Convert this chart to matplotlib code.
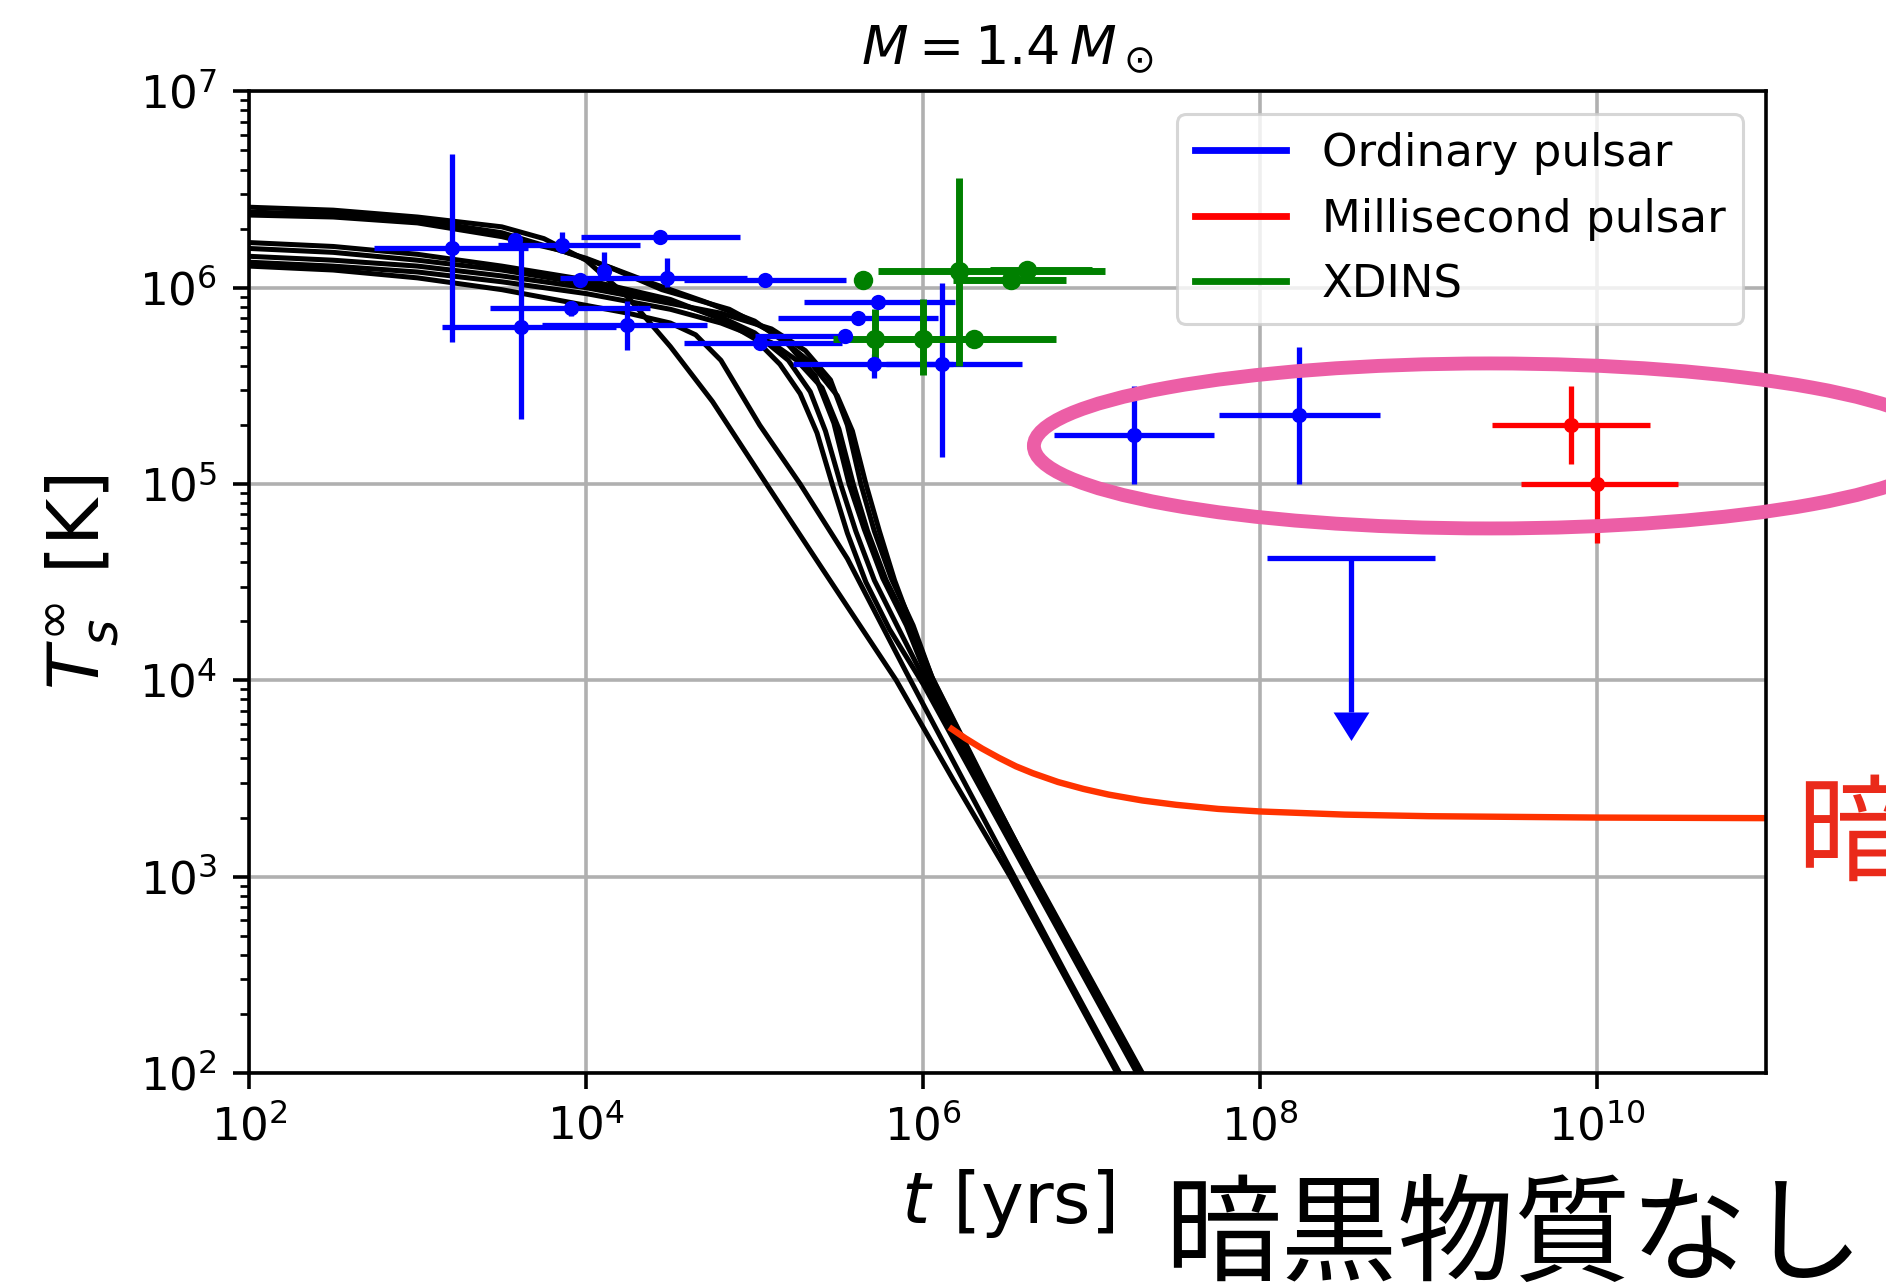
import numpy as np
import matplotlib
matplotlib.use("Agg")
import matplotlib.pyplot as plt
from matplotlib.lines import Line2D
from matplotlib.patches import Ellipse
from matplotlib.ticker import LogLocator, NullLocator

plt.rcParams['font.family'] = ['DejaVu Sans']
plt.rcParams['mathtext.fontset'] = 'dejavusans'

# ---------------------------------------------------------------------------
# Minimal-cooling curves: log10(t / yr) and log10(T_s^inf / K)
# ---------------------------------------------------------------------------
c1_logt = [2.0, 2.5, 3.0, 3.5, 3.75, 4.0, 4.25, 4.5, 4.75, 5.07, 5.4, 5.84, 6.18, 6.516, 6.84, 7.149, 7.25]
c1_logT = [6.41, 6.395, 6.36, 6.31, 6.25, 6.14, 5.95, 5.70, 5.42, 5.00, 4.57, 4.00, 3.49, 3.00, 2.49, 2.00, 1.84]

c2_logt = [2.0, 2.5, 3.0, 3.5, 4.0, 4.25, 4.5, 4.65, 4.8, 5.03, 5.27, 5.55, 5.9, 6.22, 6.535, 6.85, 7.165, 7.26]
c2_logT = [6.11, 6.09, 6.05, 5.99, 5.91, 5.87, 5.82, 5.76, 5.63, 5.30, 5.00, 4.62, 4.04, 3.52, 3.01, 2.50, 2.00, 1.85]

c3_logt = [2.0, 2.5, 3.0, 3.5, 4.0, 4.5, 4.8, 5.0, 5.15, 5.27, 5.37, 5.46, 5.55, 5.66, 5.80, 6.0, 6.32, 6.64, 6.96, 7.28, 7.36]
c3_logT = [6.23, 6.21, 6.17, 6.11, 6.04, 5.94, 5.84, 5.74, 5.61, 5.46, 5.26, 5.00, 4.75, 4.50, 4.26, 3.98, 3.48, 2.98, 2.48, 1.98, 1.86]

c4_logt = [2.0, 2.5, 3.0, 3.5, 4.0, 4.5, 4.8, 5.0, 5.2, 5.33, 5.42, 5.51, 5.60, 5.71, 5.85, 6.01, 6.33, 6.645, 6.965, 7.285, 7.36]
c4_logT = [6.20, 6.18, 6.14, 6.09, 6.02, 5.93, 5.85, 5.77, 5.63, 5.47, 5.27, 5.00, 4.76, 4.51, 4.27, 4.00, 3.50, 3.00, 2.50, 2.00, 1.88]

c5_logt = [2.0, 2.5, 3.0, 3.5, 4.0, 4.4, 4.7, 5.0, 5.2, 5.36, 5.47, 5.56, 5.65, 5.76, 5.90, 6.03, 6.34, 6.65, 6.97, 7.29, 7.37]
c5_logT = [6.385, 6.375, 6.345, 6.28, 6.15, 6.02, 5.93, 5.83, 5.71, 5.55, 5.31, 5.00, 4.77, 4.52, 4.28, 4.00, 3.50, 3.00, 2.50, 2.00, 1.88]

c6_logt = [2.0, 2.5, 3.0, 3.5, 4.0, 4.5, 4.8, 5.1, 5.3, 5.45, 5.55, 5.63, 5.71, 5.81, 5.94, 6.05, 6.35, 6.655, 6.975, 7.295, 7.37]
c6_logT = [6.16, 6.14, 6.11, 6.06, 6.00, 5.92, 5.87, 5.79, 5.68, 5.53, 5.30, 5.00, 4.76, 4.52, 4.28, 4.02, 3.51, 3.00, 2.50, 2.00, 1.88]

c7_logt = [2.0, 2.5, 3.0, 3.5, 4.0, 4.5, 4.8, 5.1, 5.25, 5.40, 5.50, 5.585, 5.67, 5.78, 5.92, 6.03, 6.34, 6.65, 6.97, 7.29, 7.37]
c7_logT = [6.13, 6.11, 6.08, 6.03, 5.97, 5.89, 5.82, 5.72, 5.63, 5.49, 5.28, 5.00, 4.76, 4.51, 4.27, 4.01, 3.50, 3.00, 2.50, 2.00, 1.88]

c8_logt = [2.0, 2.5, 3.0, 3.5, 3.85, 4.15, 4.45, 4.85, 5.13, 5.33, 5.49, 5.58, 5.66, 5.74, 5.83, 5.93, 6.06, 6.35, 6.66, 6.98, 7.30, 7.38]
c8_logT = [6.37, 6.36, 6.33, 6.26, 6.19, 6.10, 5.99, 5.89, 5.76, 5.62, 5.45, 5.27, 5.00, 4.76, 4.51, 4.28, 4.00, 3.50, 3.00, 2.50, 2.00, 1.87]

cooling_curves = [(c1_logt, c1_logT), (c2_logt, c2_logT), (c3_logt, c3_logT),
                  (c4_logt, c4_logT), (c5_logt, c5_logT), (c6_logt, c6_logT),
                  (c7_logt, c7_logT), (c8_logt, c8_logT)]

# Dark-matter heating branch
dm_logt = [6.17, 6.25, 6.35, 6.45, 6.55, 6.65, 6.80, 6.95, 7.10, 7.30, 7.50, 7.75, 8.0, 8.5, 9.0, 10.0, 11.0]
dm_logT = [3.752, 3.705, 3.652, 3.605, 3.562, 3.527, 3.482, 3.447, 3.418, 3.388, 3.366, 3.345, 3.332, 3.316, 3.308, 3.301, 3.298]

# ---------------------------------------------------------------------------
# Observations: age t [yr] with range, surface temperature T [K] with range
# ---------------------------------------------------------------------------
ord_t    = [1.6e3, 3.8e3, 4.1e3, 7.2e3, 8.1e3, 9.2e3, 1.27e4, 1.76e4, 2.75e4, 3.0e4,
            1.15e5, 1.08e5, 3.44e5, 4.13e5, 5.4e5, 5.1e5, 1.29e6, 1.79e7, 1.69e8]
ord_t_lo = [5.5e2, 3.8e3, 1.4e3, 3.0e3, 2.7e3, 9.2e3, 1.27e4, 5.5e3, 9.3e3, 7.0e3,
            3.8e4, 3.8e4, 1.0e5, 1.38e5, 1.95e5, 1.7e5, 6.0e5, 5.97e6, 5.7e7]
ord_t_hi = [4.5e3, 3.8e3, 1.5e4, 2.1e4, 2.4e4, 9.2e3, 1.27e4, 5.2e4, 8.2e4, 9.0e4,
            3.5e5, 3.3e5, 3.6e5, 1.23e6, 1.55e6, 1.5e6, 3.85e6, 5.3e7, 5.1e8]
ord_T    = [1.59e6, 1.75e6, 6.3e5, 1.65e6, 7.85e5, 1.09e6, 1.21e6, 6.45e5, 1.82e6, 1.12e6,
            1.1e6, 5.2e5, 5.67e5, 7.0e5, 8.5e5, 4.1e5, 4.1e5, 1.78e5, 2.25e5]
ord_T_lo = [5.3e5, 1.75e6, 2.15e5, 1.5e6, 7.2e5, 1.09e6, 1.12e6, 4.8e5, 1.82e6, 1.01e6,
            1.1e6, 5.2e5, 5.67e5, 7.0e5, 8.5e5, 3.45e5, 1.37e5, 1.0e5, 1.0e5]
ord_T_hi = [4.8e6, 1.75e6, 1.6e6, 1.93e6, 8.6e5, 1.09e6, 1.52e6, 8.6e5, 1.82e6, 1.42e6,
            1.1e6, 5.2e5, 5.67e5, 7.0e5, 8.5e5, 4.6e5, 1.06e6, 3.17e5, 5.0e5]

# Upper limit on an old ordinary pulsar
ul_t, ul_t_lo, ul_t_hi = 3.44e8, 1.1e8, 1.08e9
ul_T, ul_T_arrow = 4.2e4, 6.9e3

ms_t    = [6.97e9, 1.0e10]
ms_t_lo = [2.37e9, 3.5e9]
ms_t_hi = [2.06e10, 3.0e10]
ms_T    = [2.0e5, 1.0e5]
ms_T_lo = [1.26e5, 5.0e4]
ms_T_hi = [3.17e5, 2.0e5]

xd_t    = [4.4e5, 1.62e6, 4.1e6, 3.3e6, 5.2e5, 1.0e6, 2.0e6]
xd_t_lo = [4.4e5, 5.4e5, 2.5e6, 1.5e6, 2.9e5, 4.5e5, 8.0e5]
xd_t_hi = [4.4e5, 1.2e7, 1.0e7, 7.0e6, 9.5e5, 2.5e6, 6.1e6]
xd_T    = [1.1e6, 1.21e6, 1.23e6, 1.1e6, 5.5e5, 5.5e5, 5.5e5]
xd_T_lo = [1.1e6, 4.0e5, 1.23e6, 1.1e6, 4.0e5, 3.6e5, 5.5e5]
xd_T_hi = [1.1e6, 3.6e6, 1.23e6, 1.1e6, 7.8e5, 8.8e5, 5.5e5]

legend_labels = ['Ordinary pulsar', 'Millisecond pulsar', 'XDINS']
legend_colors = ['b', 'r', 'g']


def asym(v, lo, hi):
    v, lo, hi = map(np.asarray, (v, lo, hi))
    return np.vstack([v - lo, hi - v])


fig = plt.figure(figsize=(18.86, 12.87), dpi=100)
ax = fig.add_axes([0.1320, 0.1663, 0.8044, 0.7627])
ax.set_xscale('log')
ax.set_yscale('log')

for lt, lT in cooling_curves:
    ax.plot(10 ** np.asarray(lt), 10 ** np.asarray(lT), color='k', lw=3.6, zorder=2)

ax.plot(10 ** np.asarray(dm_logt), 10 ** np.asarray(dm_logT), color='#ff3300', lw=4.6, zorder=2)

ax.errorbar(ord_t, ord_T, xerr=asym(ord_t, ord_t_lo, ord_t_hi),
            yerr=asym(ord_T, ord_T_lo, ord_T_hi), fmt='o', color='b',
            ms=11, mew=0, elinewidth=3.8, capsize=0, zorder=3)
ax.errorbar(ms_t, ms_T, xerr=asym(ms_t, ms_t_lo, ms_t_hi),
            yerr=asym(ms_T, ms_T_lo, ms_T_hi), fmt='o', color='r',
            ms=11, mew=0, elinewidth=3.8, capsize=0, zorder=3)
ax.errorbar(xd_t, xd_T, xerr=asym(xd_t, xd_t_lo, xd_t_hi),
            yerr=asym(xd_T, xd_T_lo, xd_T_hi), fmt='o', color='g',
            ms=14, mew=0, elinewidth=5.0, capsize=0, zorder=3)

# upper limit: horizontal age range, downward arrow
ax.errorbar([ul_t], [ul_T], xerr=[[ul_t - ul_t_lo], [ul_t_hi - ul_t]],
            yerr=[[ul_T - ul_T_arrow], [0]], fmt='none', ecolor='b',
            elinewidth=3.8, capsize=0, zorder=3)
arrow_head = [(-1.0, 0.0), (1.0, 0.0), (0.0, -1.59), (-1.0, 0.0)]
ax.plot([ul_t], [ul_T_arrow], linestyle='none', marker=arrow_head, ms=41,
        color='b', mew=0, zorder=3)

ax.set_xlim(1e2, 1e11)
ax.set_ylim(1e2, 1e7)
ax.set_xticks([1e2, 1e4, 1e6, 1e8, 1e10])
ax.xaxis.set_minor_locator(NullLocator())
ax.yaxis.set_major_locator(LogLocator(base=10, numticks=20))
ax.yaxis.set_minor_locator(LogLocator(base=10, subs=np.arange(2, 10), numticks=20))

ax.tick_params(which='major', length=11.4, width=2.6, pad=11.4, labelsize=32.5)
ax.tick_params(which='minor', length=6.5, width=1.95)
for sp in ax.spines.values():
    sp.set_linewidth(2.6)
ax.grid(True, which='major', color='#b0b0b0', lw=2.6)
ax.set_axisbelow(True)

ax.set_title(r'$M = 1.4\,M_\odot$', fontsize=39, pad=19.5)
ax.set_xlabel(r'$t$ [yrs]', fontsize=52, labelpad=13)
ax.set_ylabel(r'$T_s^\infty$ [K]', fontsize=52, labelpad=13)

handles = [Line2D([], [], color=c, lw=4.9) for c in legend_colors]
leg = ax.legend(handles, legend_labels, loc='upper right', fontsize=32.5,
                framealpha=0.8, edgecolor='0.8')
leg.get_frame().set_linewidth(2.2)

fig.add_artist(Ellipse((0.790, 0.6535), 0.4836, 0.1282, transform=fig.transFigure,
                       fill=False, edgecolor='#ec5ea6', lw=10, zorder=10))

fig.text(1164 / 1886, 1 - 1239 / 1287, '暗黒物質なし', fontsize=84,
         family=['Noto Sans CJK JP', 'DejaVu Sans'], color='black',
         ha='left', va='center')
fig.text(1796 / 1886, 1 - 839 / 1287, '暗', fontsize=84,
         family=['Noto Sans CJK JP', 'DejaVu Sans'], color='#ea2a1a',
         ha='left', va='center')

fig.savefig('out.png', dpi=100)
